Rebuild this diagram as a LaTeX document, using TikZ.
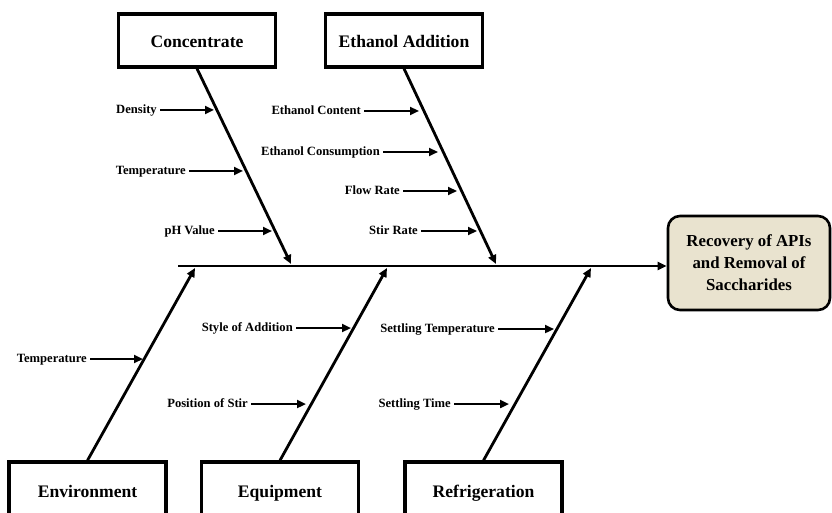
\documentclass[tikz,border=0pt]{standalone}
\usepackage{fontspec}
\setmainfont{Liberation Serif}
\usetikzlibrary{arrows.meta}
\definecolor{resfill}{RGB}{233,227,207}
\tikzset{
  x=1pt, y=-1pt,
  catbox/.style={draw, line width=3.2pt, minimum width=157pt, minimum height=53pt, inner sep=0pt,
    text height=16pt, text depth=1pt, font=\fontsize{17.6}{20}\selectfont\bfseries},
  resbox/.style={draw, line width=2.6pt, fill=resfill, rounded corners=12pt, minimum width=162pt,
    minimum height=94pt, align=center, font=\fontsize{16.8}{22}\selectfont\bfseries, inner sep=0pt},
  lbl/.style={font=\fontsize{12.6}{14}\selectfont\bfseries, anchor=east, inner xsep=3pt, inner ysep=0pt,
    text height=9pt, text depth=2pt},
  bone/.style={line width=2.8pt, -{Triangle[length=9pt,width=8pt]}},
  arr/.style={line width=2.8pt, -{Triangle[length=9pt,width=8pt]}},
}
\begin{document}
\begin{tikzpicture}
\useasboundingbox (0,0) rectangle (832,513);
\clip (0,0) rectangle (832,513);
% category boxes
\node[catbox] (conc) at (197,40.5) {Concentrate};
\node[catbox] (etha) at (404,40.5) {Ethanol Addition};
\node[catbox, minimum height=56pt] (env) at (87.5,490) {Environment};
\node[catbox, minimum height=56pt] (equ) at (280,490) {Equipment};
\node[catbox, minimum height=56pt] (ref) at (483.5,490) {Refrigeration};
% result
\node[resbox] (res) at (749,263) {Recovery of APIs\\and Removal of\\Saccharides};
% spine
\coordinate (s0) at (178,266);
\draw[arr] (s0) -- (res.west |- s0);
% bone ends on spine
\coordinate (e1) at (291,264);
\coordinate (e2) at (496,264);
\coordinate (e3) at (195,268);
\coordinate (e4) at (387,268);
\coordinate (e5) at (591,268);
\draw[bone] (conc.south) -- (e1);
\draw[bone] (etha.south) -- (e2);
\draw[bone] (env.north) -- (e3);
\draw[bone] (equ.north) -- (e4);
\draw[bone] (ref.north) -- (e5);
% Concentrate causes
\node[lbl] (c1) at (160,110) {Density};
\node[lbl] (c2) at (189,171) {Temperature};
\node[lbl] (c3) at (218,231) {pH Value};
\coordinate (tc1) at (214,110);
\coordinate (tc2) at (243,171);
\coordinate (tc3) at (272,231);
\draw[arr] (c1.east) -- (tc1);
\draw[arr] (c2.east) -- (tc2);
\draw[arr] (c3.east) -- (tc3);
% Ethanol causes
\node[lbl] (a1) at (364,111) {Ethanol Content};
\node[lbl] (a2) at (383,152) {Ethanol Consumption};
\node[lbl] (a3) at (403,191) {Flow Rate};
\node[lbl] (a4) at (421,231) {Stir Rate};
\coordinate (ta1) at (419,111);
\coordinate (ta2) at (438,152);
\coordinate (ta3) at (457,191);
\coordinate (ta4) at (477,231);
\draw[arr] (a1.east) -- (ta1);
\draw[arr] (a2.east) -- (ta2);
\draw[arr] (a3.east) -- (ta3);
\draw[arr] (a4.east) -- (ta4);
% Environment
\node[lbl] (v1) at (90,359) {Temperature};
\coordinate (tv1) at (143,359);
\draw[arr] (v1.east) -- (tv1);
% Equipment
\node[lbl] (q1) at (296,328) {Style of Addition};
\node[lbl] (q2) at (251,404) {Position of Stir};
\coordinate (tq1) at (351,328);
\coordinate (tq2) at (306,404);
\draw[arr] (q1.east) -- (tq1);
\draw[arr] (q2.east) -- (tq2);
% Refrigeration
\node[lbl] (r1) at (498,329) {Settling Temperature};
\node[lbl] (r2) at (454,404) {Settling Time};
\coordinate (tr1) at (554,329);
\coordinate (tr2) at (509,404);
\draw[arr] (r1.east) -- (tr1);
\draw[arr] (r2.east) -- (tr2);
\end{tikzpicture}
\end{document}
